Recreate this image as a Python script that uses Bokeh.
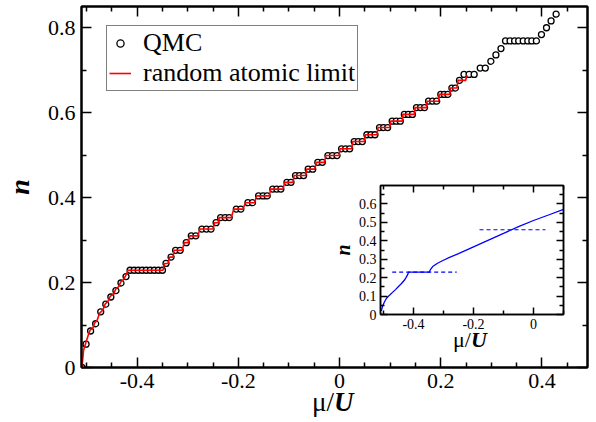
from bokeh.plotting import figure
from bokeh.models import Range1d, LinearAxis, FixedTicker, Legend, LegendItem, Div
from bokeh.embed import file_html
from bokeh.resources import INLINE

# ---------------- data ----------------
qmc_mu = [
    -0.509, -0.501, -0.492, -0.482, -0.472, -0.462, -0.452, -0.442, -0.432, -0.422,
    -0.414, -0.406, -0.398, -0.390, -0.382, -0.374, -0.366, -0.358, -0.350,
    -0.343, -0.333, -0.324, -0.315, -0.303, -0.293, -0.284, -0.272, -0.263, -0.254,
    -0.244, -0.235, -0.226, -0.218, -0.204, -0.195, -0.181, -0.172,
    -0.160, -0.151, -0.143, -0.132, -0.124, -0.116, -0.104, -0.096,
    -0.087, -0.079, -0.071, -0.062, -0.053, -0.043, -0.034,
    -0.023, -0.014, -0.005, 0.004, 0.012, 0.020, 0.029, 0.037, 0.045,
    0.054, 0.062, 0.070, 0.079, 0.087, 0.095, 0.104, 0.112, 0.120,
    0.128, 0.136, 0.144, 0.152, 0.160, 0.168, 0.176, 0.184, 0.192,
    0.200, 0.207, 0.214, 0.222, 0.229, 0.237, 0.246, 0.256, 0.266,
    0.278, 0.288, 0.299, 0.309, 0.319,
    0.328, 0.337, 0.346, 0.354, 0.363, 0.372, 0.380, 0.389,
    0.399, 0.409, 0.418, 0.428,
]
qmc_n = [
    0.000, 0.055, 0.086, 0.103, 0.131, 0.149, 0.166, 0.181, 0.199, 0.214,
    0.229, 0.229, 0.229, 0.229, 0.229, 0.229, 0.229, 0.229, 0.229,
    0.245, 0.260, 0.276, 0.276, 0.294, 0.310, 0.310, 0.326, 0.326, 0.326,
    0.341, 0.353, 0.353, 0.353, 0.373, 0.373, 0.388, 0.388,
    0.404, 0.404, 0.404, 0.420, 0.420, 0.420, 0.436, 0.436,
    0.452, 0.452, 0.452, 0.467, 0.467, 0.483, 0.483,
    0.499, 0.499, 0.499, 0.515, 0.515, 0.515, 0.532, 0.532, 0.532,
    0.548, 0.548, 0.548, 0.565, 0.565, 0.565, 0.580, 0.580, 0.580,
    0.596, 0.596, 0.596, 0.612, 0.612, 0.612, 0.627, 0.627, 0.627,
    0.643, 0.643, 0.643, 0.658, 0.658, 0.676, 0.690, 0.690, 0.690,
    0.705, 0.705, 0.721, 0.736, 0.751,
    0.769, 0.769, 0.769, 0.769, 0.769, 0.769, 0.769, 0.769,
    0.784, 0.800, 0.816, 0.832,
]

ral_mu = [
    -0.509, -0.506, -0.501, -0.497, -0.493, -0.488, -0.484, -0.479, -0.474, -0.468,
    -0.463, -0.458, -0.453, -0.447, -0.442, -0.437, -0.432, -0.427, -0.422, -0.418,
    -0.349, -0.346, -0.339, -0.336, -0.329, -0.327, -0.311, -0.307, -0.299, -0.296,
    -0.280, -0.276, -0.250, -0.247, -0.240, -0.238, -0.214, -0.209, -0.191, -0.186,
    -0.168, -0.164, -0.139, -0.136, -0.112, -0.108, -0.092, -0.090, -0.067, -0.065,
    -0.049, -0.046, -0.030, -0.027, -0.001, 0.001, 0.024, 0.026, 0.049, 0.051,
    0.074, 0.076, 0.099, 0.101, 0.124, 0.125, 0.148, 0.149, 0.172, 0.173,
    0.196, 0.197, 0.218, 0.219, 0.232, 0.234, 0.249, 0.252,
]
ral_n = [
    0.000, 0.040, 0.060, 0.075, 0.088, 0.092, 0.105, 0.112, 0.128, 0.135,
    0.150, 0.155, 0.168, 0.172, 0.185, 0.190, 0.202, 0.207, 0.218, 0.229,
    0.229, 0.245, 0.245, 0.260, 0.260, 0.276, 0.276, 0.294, 0.294, 0.310,
    0.310, 0.326, 0.326, 0.341, 0.341, 0.353, 0.353, 0.373, 0.373, 0.388,
    0.388, 0.404, 0.404, 0.420, 0.420, 0.436, 0.436, 0.452, 0.452, 0.467,
    0.467, 0.483, 0.483, 0.499, 0.499, 0.515, 0.515, 0.532, 0.532, 0.548,
    0.548, 0.565, 0.565, 0.580, 0.580, 0.596, 0.596, 0.612, 0.612, 0.627,
    0.627, 0.643, 0.643, 0.658, 0.658, 0.676, 0.676, 0.688,
]

inset_mu = [-0.507, -0.503, -0.497, -0.490, -0.480, -0.470, -0.460, -0.450, -0.440,
            -0.430, -0.425, -0.420, -0.416, -0.347, -0.343, -0.336, -0.320, -0.302,
            -0.280, -0.250, -0.200, -0.150, -0.100, -0.050, 0.000, 0.050, 0.100]
inset_n = [0.020, 0.045, 0.068, 0.088, 0.105, 0.120, 0.135, 0.152, 0.168,
           0.187, 0.200, 0.215, 0.230, 0.230, 0.245, 0.260, 0.278, 0.293,
           0.310, 0.330, 0.367, 0.404, 0.440, 0.477, 0.510, 0.540, 0.571]
dash1_mu = [-0.471, -0.256]
dash1_n = [0.230, 0.230]
dash2_mu = [-0.180, 0.040]
dash2_n = [0.460, 0.460]

main_xticks = [-0.4, -0.2, 0, 0.2, 0.4]
main_xminor = [-0.5, -0.45, -0.35, -0.3, -0.25, -0.15, -0.1, -0.05,
               0.05, 0.1, 0.15, 0.25, 0.3, 0.35, 0.45]
main_xlabels = {-0.4: "-0.4", -0.2: "-0.2", 0: "0", 0.2: "0.2", 0.4: "0.4"}
main_yticks = [0, 0.2, 0.4, 0.6, 0.8]
main_yminor = [0.1, 0.3, 0.5, 0.7]
main_ylabels = {0: "0", 0.2: "0.2", 0.4: "0.4", 0.6: "0.6", 0.8: "0.8"}

inset_xticks = [-0.4, -0.2, 0]
inset_xminor = [-0.5, -0.3, -0.1, 0.1]
inset_xlabels = {-0.4: "-0.4", -0.2: "-0.2", 0: "0"}
inset_yticks = [0, 0.1, 0.2, 0.3, 0.4, 0.5, 0.6]
inset_yminor = [0.05, 0.15, 0.25, 0.35, 0.45, 0.55, 0.65]
inset_ylabels = {0: "0", 0.1: "0.1", 0.2: "0.2", 0.3: "0.3", 0.4: "0.4", 0.5: "0.5", 0.6: "0.6"}

SERIF = "Liberation Serif"


def style_axis(ax, ticks, minor, labels, size, t_in, m_in, lw, show=True, standoff=6):
    ax.ticker = FixedTicker(ticks=ticks, minor_ticks=minor)
    ax.major_tick_in = t_in
    ax.major_tick_out = 0
    ax.minor_tick_in = m_in
    ax.minor_tick_out = 0
    ax.axis_line_width = lw
    ax.axis_line_color = "black"
    ax.major_tick_line_width = 1.5
    ax.minor_tick_line_width = 1.5
    ax.major_tick_line_color = "black"
    ax.minor_tick_line_color = "black"
    ax.major_label_text_font = SERIF
    if show:
        ax.major_label_text_color = "black"
        ax.major_label_text_font_size = size
        ax.major_label_overrides = labels
        ax.major_label_standoff = standoff
    else:
        ax.major_label_text_color = None
        ax.major_label_text_font_size = "1px"
        ax.major_label_standoff = 0


# ---------------- main figure ----------------
p = figure(x_range=Range1d(-0.51, 0.49), y_range=Range1d(0, 0.85),
           width=596, height=422,
           min_border_left=78, min_border_right=9, min_border_top=6, min_border_bottom=55,
           toolbar_location=None, output_backend="svg")
p.xgrid.visible = False
p.ygrid.visible = False
p.outline_line_color = "black"
p.outline_line_width = 2

style_axis(p.xaxis[0], main_xticks, main_xminor, main_xlabels, "22px", 10, 5, 2, standoff=6)
style_axis(p.yaxis[0], main_yticks, main_yminor, main_ylabels, "22px", 10, 5, 2, standoff=6)
p.yaxis[0].axis_label = "n"
p.yaxis[0].axis_label_text_font = SERIF
p.yaxis[0].axis_label_text_font_style = "bold italic"
p.yaxis[0].axis_label_text_font_size = "28px"
p.yaxis[0].axis_label_text_color = "black"
p.yaxis[0].axis_label_standoff = 10

top_ax = LinearAxis()
style_axis(top_ax, main_xticks, main_xminor, main_xlabels, "22px", 10, 5, 2, show=False)
p.add_layout(top_ax, "above")
right_ax = LinearAxis()
style_axis(right_ax, main_yticks, main_yminor, main_ylabels, "22px", 10, 5, 2, show=False)
p.add_layout(right_ax, "right")

r_qmc = p.scatter(qmc_mu, qmc_n, marker="circle", size=6, line_color="black",
                  fill_color="white", line_width=1.3)
r_ral = p.line(ral_mu, ral_n, line_color="red", line_width=1.6)

legend = Legend(items=[LegendItem(label="QMC", renderers=[r_qmc]),
                       LegendItem(label="random atomic limit", renderers=[r_ral])],
                location=(25, 276))
legend.label_text_font = SERIF
legend.label_text_font_size = "26px"
legend.label_text_color = "black"
legend.label_height = 18
legend.border_line_color = "black"
legend.border_line_width = 1.2
legend.background_fill_alpha = 1
legend.glyph_width = 22
legend.glyph_height = 18
legend.label_standoff = 12
legend.padding = 2
legend.spacing = -2
legend.margin = 0
p.add_layout(legend)

# ---------------- inset ----------------
inset = figure(x_range=Range1d(-0.51, 0.1), y_range=Range1d(0, 0.7),
               frame_width=183, frame_height=129,
               min_border_left=47, min_border_right=3, min_border_top=3, min_border_bottom=25,
               toolbar_location=None, output_backend="svg")
inset.styles = {"position": "absolute", "left": "328px", "top": "182px"}
inset.border_fill_color = None
inset.background_fill_color = "white"
inset.xgrid.visible = False
inset.ygrid.visible = False
inset.outline_line_color = "black"
inset.outline_line_width = 1.5

style_axis(inset.xaxis[0], inset_xticks, inset_xminor, inset_xlabels, "14px", 7, 4, 1.5, standoff=4)
style_axis(inset.yaxis[0], inset_yticks, inset_yminor, inset_ylabels, "14px", 7, 4, 1.5, standoff=4)
inset.yaxis[0].axis_label = "n"
inset.yaxis[0].axis_label_text_font = SERIF
inset.yaxis[0].axis_label_text_font_style = "bold italic"
inset.yaxis[0].axis_label_text_font_size = "20px"
inset.yaxis[0].axis_label_text_color = "black"
inset.yaxis[0].axis_label_standoff = 2

i_top = LinearAxis()
style_axis(i_top, inset_xticks, inset_xminor, inset_xlabels, "14px", 7, 4, 1.5, show=False)
inset.add_layout(i_top, "above")
i_right = LinearAxis()
style_axis(i_right, inset_yticks, inset_yminor, inset_ylabels, "14px", 7, 4, 1.5, show=False)
inset.add_layout(i_right, "right")

inset.line(inset_mu, inset_n, line_color="#0000ff", line_width=1.3)
inset.line(dash1_mu, dash1_n, line_color="#0000ff", line_width=1.2, line_dash="4 3")
inset.line(dash2_mu, dash2_n, line_color="#0000ff", line_width=1.2, line_dash="4 3")

# ---------------- axis titles with mixed styles ----------------
main_xtitle = Div(
    text='<span style="font-family:\'Liberation Serif\';font-size:27px;line-height:30px;'
         'color:black;white-space:nowrap">μ/<b><i>U</i></b></span>',
    width=60, height=34,
    styles={"position": "absolute", "left": "307px", "top": "382px"})
inset_xtitle = Div(
    text='<span style="font-family:\'Liberation Serif\';font-size:22px;line-height:25px;'
         'color:black;white-space:nowrap">μ/<b><i>U</i></b></span>',
    width=50, height=28,
    styles={"position": "absolute", "left": "448px", "top": "322px"})

open("out.html", "w").write(file_html([p, inset, main_xtitle, inset_xtitle], INLINE))
